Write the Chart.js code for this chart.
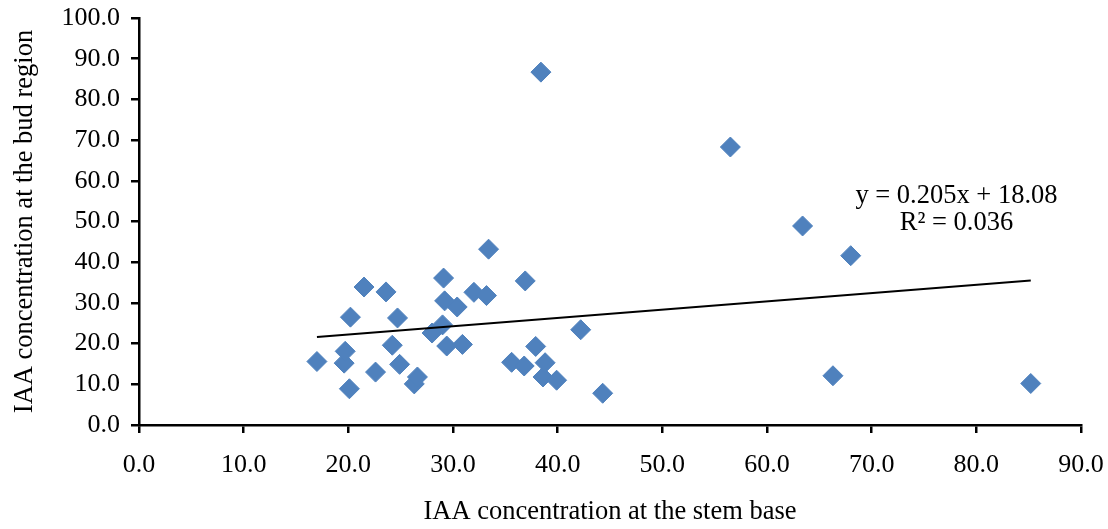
<!DOCTYPE html>
<html>
<head>
<meta charset="utf-8">
<script src="https://cdn.jsdelivr.net/npm/chart.js@4/dist/chart.umd.min.js"></script>
<style>
  body { margin: 0; background: #fff; }
</style>
</head>
<body>
<canvas id="chart" width="1108" height="529"></canvas>
<script>
// IAA at stem base (x) vs IAA at bud region (y)
const stemBase = [17.0, 19.6, 19.7, 20.1, 20.2, 21.5, 22.6, 23.6, 24.2, 24.7, 24.9, 26.3, 26.6, 28.0,
  29.1, 29.0, 29.2, 29.4, 30.4, 30.9, 32.0, 33.2, 33.4, 35.6, 36.8, 36.9, 37.9, 38.4, 38.6, 38.8,
  39.9, 42.2, 44.3, 56.5, 63.4, 66.3, 68.0, 85.2];
const budRegion = [15.6, 15.2, 18.1, 8.9, 26.5, 33.9, 13.0, 32.7, 19.6, 26.3, 14.9, 10.1, 11.8, 22.6,
  36.1, 24.6, 30.5, 19.4, 29.0, 19.8, 32.6, 31.8, 43.2, 15.4, 14.5, 35.4, 19.3, 86.7, 11.8, 15.3,
  11.0, 23.4, 7.8, 68.3, 48.9, 12.1, 41.6, 10.2];

// linear trendline end points as drawn
const trendX = [17.0, 85.2];
const trendY = [21.6, 35.5];

const equationLines = ['y = 0.205x + 18.08', 'R\u00B2 = 0.036'];

const serif = '"Liberation Serif", "Times New Roman", serif';

const equationLabel = {
  id: 'equationLabel',
  afterDatasetsDraw(chart) {
    const { ctx, scales } = chart;
    const cx = scales.x.getPixelForValue(78.1);
    ctx.save();
    ctx.fillStyle = '#000';
    ctx.font = '26.5px ' + serif;
    ctx.textAlign = 'center';
    ctx.textBaseline = 'alphabetic';
    ctx.fillText(equationLines[0], cx, scales.y.getPixelForValue(54.5));
    ctx.fillText(equationLines[1], cx, scales.y.getPixelForValue(47.9));
    ctx.restore();
  }
};

new Chart(document.getElementById('chart'), {
  type: 'scatter',
  data: {
    datasets: [
      {
        label: 'IAA',
        data: stemBase.map((x, i) => ({ x, y: budRegion[i] })),
        pointStyle: 'rectRot',
        pointRadius: 10,
        pointHoverRadius: 10,
        backgroundColor: '#4F81BD',
        borderColor: '#4F81BD',
        borderWidth: 1,
        order: 2,
      },
      {
        label: 'Trend',
        type: 'line',
        data: trendX.map((x, i) => ({ x, y: trendY[i] })),
        borderColor: '#000',
        borderWidth: 2,
        pointRadius: 0,
        fill: false,
        order: 1,
      },
    ],
  },
  options: {
    responsive: false,
    animation: false,
    layout: {
      padding: { top: 18, right: 27, left: 0, bottom: 0 },
    },
    plugins: {
      legend: { display: false },
      tooltip: { enabled: false },
    },
    scales: {
      x: {
        type: 'linear',
        min: 0,
        max: 90,
        border: { color: '#000', width: 2.5 },
        grid: { drawOnChartArea: false, color: '#000', tickColor: '#000', tickLength: 8, lineWidth: 2.5 },
        ticks: {
          stepSize: 10,
          color: '#000',
          padding: 17,
          maxRotation: 0,
          font: { family: serif, size: 26 },
          callback: (v) => v.toFixed(1),
        },
        title: {
          display: true,
          text: 'IAA concentration at the stem base',
          color: '#000',
          font: { family: serif, size: 26.5 },
          padding: { top: 0, bottom: 1 },
        },
        afterFit(scale) {
          scale.height = 104;
          scale.paddingLeft = 0;
          scale.paddingRight = 0;
        },
      },
      y: {
        min: 0,
        max: 100,
        border: { color: '#000', width: 2.5 },
        grid: { drawOnChartArea: false, color: '#000', tickColor: '#000', tickLength: 8, lineWidth: 2.5 },
        ticks: {
          stepSize: 10,
          color: '#000',
          padding: 11,
          font: { family: serif, size: 26 },
          callback: (v) => v.toFixed(1),
        },
        title: {
          display: true,
          text: 'IAA concentration at the bud region',
          color: '#000',
          font: { family: serif, size: 26.5 },
          padding: { top: 9, bottom: 0 },
        },
        afterFit(scale) {
          scale.width = 139;
          scale.paddingTop = 0;
          scale.paddingBottom = 0;
        },
      },
    },
  },
  plugins: [equationLabel],
});
</script>
</body>
</html>
